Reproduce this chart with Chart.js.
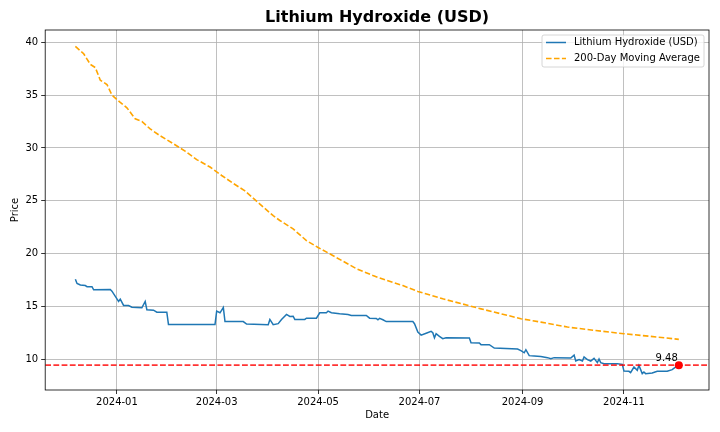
<!DOCTYPE html>
<html>
<head>
<meta charset="utf-8">
<script src="https://cdn.jsdelivr.net/npm/chart.js@4.4.1/dist/chart.umd.min.js"></script>
<style>
  body { margin: 0; background: #fff; }
  #wrap { width: 720px; height: 432px; }
</style>
</head>
<body>
<div id="wrap"><canvas id="grafico"></canvas></div>
<script>
// Lithium hydroxide price (USD)
const priceDates = [
  '2023-12-07','2023-12-08','2023-12-10','2023-12-13','2023-12-14','2023-12-17','2023-12-18','2023-12-28','2023-12-29',
  '2024-01-01','2024-01-02','2024-01-03','2024-01-05','2024-01-08','2024-01-10','2024-01-16','2024-01-18','2024-01-19',
  '2024-01-23','2024-01-25','2024-01-31','2024-02-01','2024-02-29','2024-03-01','2024-03-03','2024-03-05','2024-03-06',
  '2024-03-17','2024-03-19','2024-04-01','2024-04-02','2024-04-04','2024-04-07','2024-04-09','2024-04-12','2024-04-14',
  '2024-04-16','2024-04-17','2024-04-23','2024-04-24','2024-04-30','2024-05-02','2024-05-06','2024-05-07','2024-05-09',
  '2024-05-14','2024-05-19','2024-05-21','2024-05-30','2024-06-01','2024-06-05','2024-06-06','2024-06-07','2024-06-09',
  '2024-06-11','2024-06-27','2024-06-28','2024-06-30','2024-07-02','2024-07-05','2024-07-08','2024-07-09','2024-07-10',
  '2024-07-11','2024-07-13','2024-07-15','2024-07-17','2024-07-31','2024-08-01','2024-08-06','2024-08-07','2024-08-12',
  '2024-08-15','2024-08-29','2024-08-31','2024-09-02','2024-09-03','2024-09-05','2024-09-08','2024-09-12','2024-09-16',
  '2024-09-18','2024-09-20','2024-09-30','2024-10-02','2024-10-03','2024-10-05','2024-10-07','2024-10-08','2024-10-10',
  '2024-10-12','2024-10-14','2024-10-16','2024-10-17','2024-10-18','2024-10-20','2024-10-28','2024-10-31','2024-11-01',
  '2024-11-04','2024-11-05','2024-11-07','2024-11-09','2024-11-10','2024-11-12','2024-11-13','2024-11-14','2024-11-18',
  '2024-11-21','2024-11-27','2024-11-30','2024-12-02','2024-12-04'
];
const priceValues = [
  17.6, 17.2, 17.05, 17.0, 16.9, 16.9, 16.6, 16.63, 16.47,
  15.75, 15.5, 15.72, 15.12, 15.12, 14.96, 14.9, 15.5, 14.72,
  14.68, 14.49, 14.49, 13.33, 13.33, 14.59, 14.43, 14.93, 13.6,
  13.6, 13.36, 13.3, 13.8, 13.3, 13.4, 13.8, 14.27, 14.08,
  14.1, 13.8, 13.8, 13.92, 13.92, 14.43, 14.43, 14.59, 14.43,
  14.34, 14.27, 14.18, 14.18, 13.92, 13.9, 13.77, 13.9, 13.77,
  13.6, 13.6, 13.4, 12.6, 12.32, 12.5, 12.67, 12.55, 12.07,
  12.45, 12.2, 11.98, 12.07, 12.04, 11.6, 11.57, 11.42, 11.42,
  11.1, 11.0, 10.85, 10.65, 10.94, 10.38, 10.34, 10.3, 10.19,
  10.09, 10.19, 10.15, 10.43, 9.87, 10.0, 9.87, 10.25, 10.0,
  9.87, 10.12, 9.72, 10.06, 9.72, 9.62, 9.62, 9.56, 8.92,
  8.9, 8.77, 9.3, 8.99, 9.46, 8.68, 8.83, 8.68, 8.74,
  8.9, 8.9, 9.06, 9.3, 9.48
];

// 200-day moving average
const maDates = [
  '2023-12-07','2023-12-12','2023-12-16','2023-12-19','2023-12-22','2023-12-26','2023-12-29','2024-01-03','2024-01-07',
  '2024-01-12','2024-01-16','2024-01-21','2024-01-27','2024-02-04','2024-02-11','2024-02-18','2024-02-26','2024-03-04',
  '2024-03-11','2024-03-18','2024-03-27','2024-04-04','2024-04-08','2024-04-16','2024-04-24','2024-05-01','2024-05-08',
  '2024-05-16','2024-05-24','2024-06-03','2024-06-11','2024-06-21','2024-06-30','2024-07-15','2024-08-07','2024-08-31',
  '2024-09-12','2024-09-28','2024-10-15','2024-11-01','2024-11-17','2024-12-04'
];
const maValues = [
  39.6, 38.9, 37.9, 37.6, 36.4, 36.0, 35.0, 34.3, 33.8,
  32.75, 32.5, 31.8, 31.15, 30.4, 29.7, 28.9, 28.2, 27.4,
  26.65, 25.95, 24.7, 23.6, 23.15, 22.35, 21.25, 20.6, 20.0,
  19.3, 18.6, 17.95, 17.5, 17.0, 16.45, 15.75, 14.8, 13.87,
  13.55, 13.08, 12.75, 12.45, 12.2, 11.92
];

const tickLabels = ['2024-01', '2024-03', '2024-05', '2024-07', '2024-09', '2024-11'];
const yTicks = [10, 15, 20, 25, 30, 35, 40];

const titulo = 'Lithium Hydroxide (USD)';
const nomes = ['Lithium Hydroxide (USD)', '200-Day Moving Average'];

// days since 2024-01-01
function dia(s) {
  return (Date.parse(s) - Date.parse('2024-01-01')) / 86400000;
}

const precoPts = priceDates.map((d, i) => ({ x: dia(d), y: priceValues[i] }));
const mediaPts = maDates.map((d, i) => ({ x: dia(d), y: maValues[i] }));
const ultimo = precoPts[precoPts.length - 1];
const tickDias = tickLabels.map(t => dia(t + '-01'));

// matplotlib style 5% margins
const xs = precoPts.concat(mediaPts).map(p => p.x);
const ys = precoPts.concat(mediaPts).map(p => p.y);
const xMin = Math.min(...xs), xMax = Math.max(...xs);
const yMin = Math.min(...ys), yMax = Math.max(...ys);
const xPad = (xMax - xMin) * 0.05, yPad = (yMax - yMin) * 0.05;

const FONTE = "'DejaVu Sans', 'Liberation Sans', sans-serif";
Chart.defaults.font.family = FONTE;
Chart.defaults.font.size = 10;
Chart.defaults.color = '#000';

const extras = {
  id: 'extras',
  afterDatasetDraw(chart, args) {
    // horizontal line at last price, drawn under the red dot
    if (args.index !== 1) return;
    const a = chart.chartArea;
    const y = chart.scales.y.getPixelForValue(ultimo.y);
    const ctx = chart.ctx;
    ctx.save();
    ctx.beginPath();
    ctx.rect(a.left, a.top, a.width, a.height);
    ctx.clip();
    ctx.strokeStyle = 'rgba(255,0,0,0.8)';
    ctx.lineWidth = 1.9;
    ctx.setLineDash([5.8, 2.4]);
    ctx.beginPath();
    ctx.moveTo(a.left, y);
    ctx.lineTo(a.right, y);
    ctx.stroke();
    ctx.restore();
  },
  afterDraw(chart) {
    const ctx = chart.ctx;
    const a = chart.chartArea;
    ctx.save();

    // frame
    ctx.strokeStyle = '#000';
    ctx.lineWidth = 0.8;
    ctx.strokeRect(a.left, a.top, a.width, a.height);

    // title
    ctx.fillStyle = '#000';
    ctx.font = 'bold 16px ' + FONTE;
    ctx.textAlign = 'center';
    ctx.textBaseline = 'middle';
    ctx.fillText(titulo, (a.left + a.right) / 2, 18);

    // label of the last value
    const px = chart.scales.x.getPixelForValue(ultimo.x);
    const py = chart.scales.y.getPixelForValue(ultimo.y);
    ctx.font = '10px ' + FONTE;
    ctx.textAlign = 'right';
    ctx.textBaseline = 'alphabetic';
    ctx.fillText(ultimo.y.toFixed(2), px - 1, py - 4);

    // legend box, upper right
    ctx.font = '10px ' + FONTE;
    const tw = Math.max(...nomes.map(n => ctx.measureText(n).width));
    const bw = 4 + 20 + 8 + tw + 4;
    const bh = 32;
    const bx = a.right - 5 - bw;
    const by = a.top + 5;
    ctx.beginPath();
    ctx.roundRect(bx, by, bw, bh, 2);
    ctx.fillStyle = 'rgba(255,255,255,0.8)';
    ctx.fill();
    ctx.strokeStyle = '#cccccc';
    ctx.lineWidth = 0.8;
    ctx.stroke();

    const cores = ['#1f77b4', 'orange'];
    const tracos = [[], [5.55, 2.4]];
    nomes.forEach((n, i) => {
      const ly = by + 7.5 + i * 16;
      ctx.strokeStyle = cores[i];
      ctx.lineWidth = 1.5;
      ctx.setLineDash(tracos[i]);
      ctx.beginPath();
      ctx.moveTo(bx + 4, ly);
      ctx.lineTo(bx + 24, ly);
      ctx.stroke();
      ctx.setLineDash([]);
      ctx.fillStyle = '#000';
      ctx.textAlign = 'left';
      ctx.textBaseline = 'middle';
      ctx.fillText(n, bx + 32, ly);
    });
    ctx.restore();
  }
};

const ctx = document.getElementById('grafico').getContext('2d');
new Chart(ctx, {
  type: 'line',
  data: {
    datasets: [
      {
        label: nomes[0],
        data: precoPts,
        borderColor: '#1f77b4',
        borderWidth: 1.5,
        pointRadius: 0,
        tension: 0,
        fill: false,
        order: 3
      },
      {
        label: nomes[1],
        data: mediaPts,
        borderColor: 'orange',
        borderWidth: 1.6,
        borderDash: [5.55, 2.4],
        pointRadius: 0,
        tension: 0,
        fill: false,
        order: 2
      },
      {
        label: 'Last',
        data: [ultimo],
        showLine: false,
        pointRadius: 4,
        pointBackgroundColor: 'red',
        pointBorderColor: 'red',
        borderWidth: 0,
        order: 1
      }
    ]
  },
  options: {
    responsive: true,
    maintainAspectRatio: false,
    animation: false,
    layout: { padding: { top: 30, right: 11, left: 0, bottom: 0 } },
    plugins: {
      legend: { display: false },
      tooltip: { enabled: false },
      title: { display: false }
    },
    scales: {
      x: {
        type: 'linear',
        min: xMin - xPad,
        max: xMax + xPad,
        afterFit(s) { s.height = 42; },
        afterBuildTicks(s) { s.ticks = tickDias.map(v => ({ value: v })); },
        ticks: {
          padding: 2,
          maxRotation: 0,
          autoSkip: false,
          callback: (v) => tickLabels[tickDias.indexOf(v)]
        },
        grid: { color: '#b0b0b0', lineWidth: 0.8, tickColor: '#000', tickLength: 4, tickWidth: 0.8 },
        border: { display: false },
        title: { display: true, text: 'Date', font: { size: 10 }, padding: { top: 0, bottom: 11 } }
      },
      y: {
        type: 'linear',
        min: yMin - yPad,
        max: yMax + yPad,
        afterFit(s) { s.width = 45.2; },
        afterBuildTicks(s) { s.ticks = yTicks.map(v => ({ value: v })); },
        ticks: { padding: 3, callback: (v) => String(v) },
        grid: { color: '#b0b0b0', lineWidth: 0.8, tickColor: '#000', tickLength: 4, tickWidth: 0.8 },
        border: { display: false },
        title: { display: true, text: 'Price', font: { size: 10 }, padding: { top: 9, bottom: 0 } }
      }
    }
  },
  plugins: [extras]
});
</script>
</body>
</html>
